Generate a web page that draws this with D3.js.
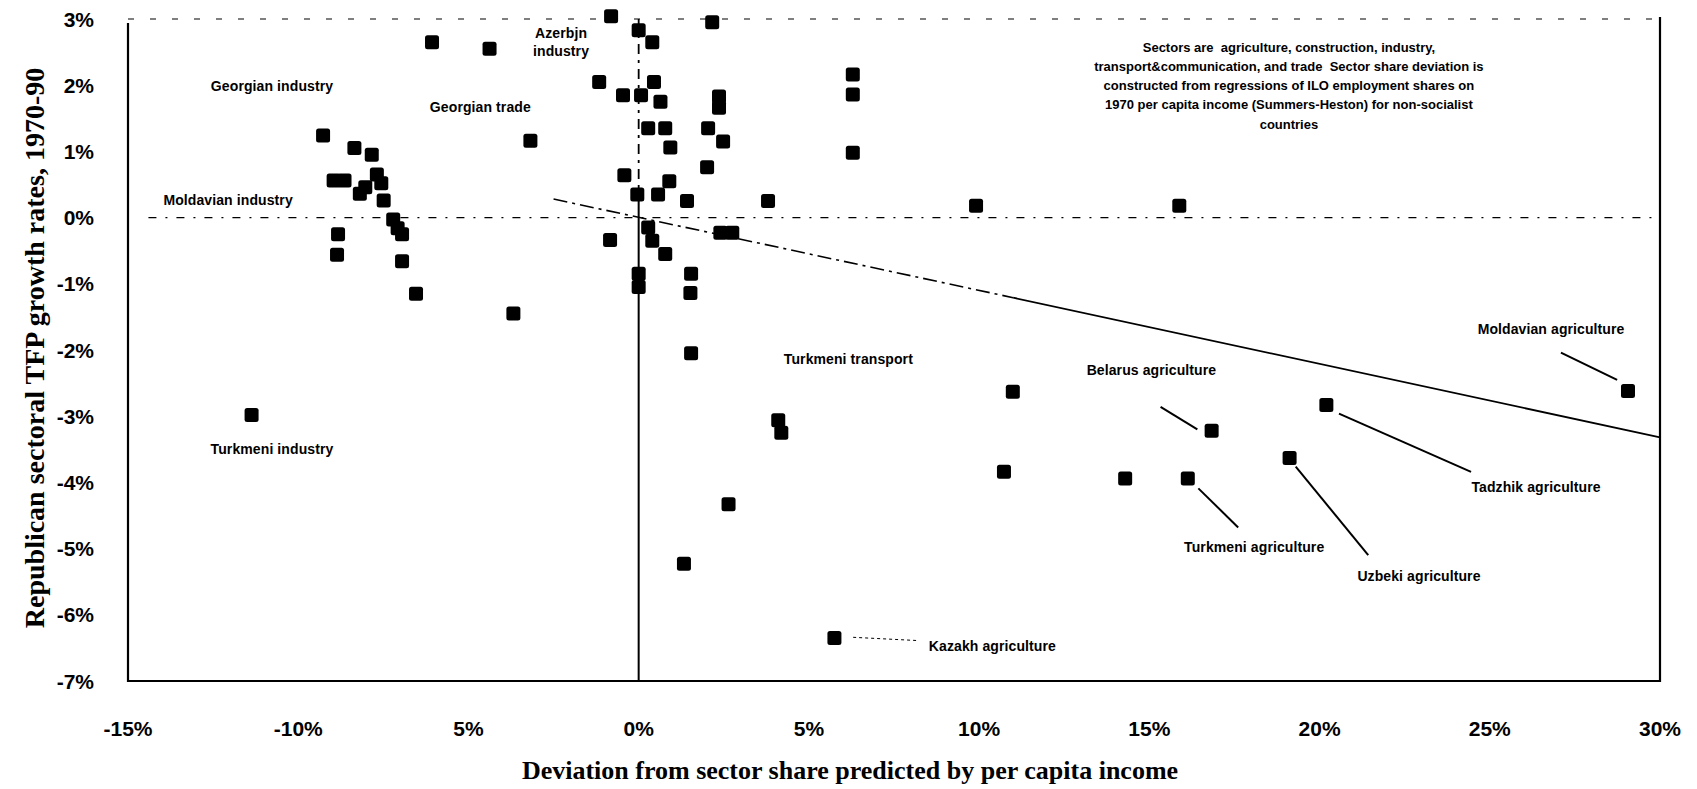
<!DOCTYPE html>
<html>
<head>
<meta charset="utf-8">
<script src="https://cdn.jsdelivr.net/npm/d3@7"></script>
<style>
  body { margin: 0; background: #fff; }
  svg text { font-family: "Liberation Sans", Arial, sans-serif; font-weight: 700; fill: #000; }
  svg text.serif { font-family: "Liberation Serif", "Times New Roman", serif; }
</style>
</head>
<body>
<svg id="chart" width="1697" height="789"></svg>
<script>
// sector share deviation (%), TFP growth (%) for each republic/sector
const sectorX = [
  -6.07, -4.38, -9.27, -8.35, -7.84, -8.96, -8.64, -7.69, -7.56, -8.03, -8.19, -7.49,
  -7.21, -7.08, -6.95, -8.83, -8.86, -6.95, -6.54, -3.68, -3.18, -11.37,
  -0.81, 0.0, 0.4, 2.16, -1.16, 0.45, -0.46, 0.07, 0.64, 2.36, 2.36, 0.28, 0.78, 2.04,
  2.48, 0.93, 2.01, -0.42, 0.9, -0.04, 0.57, 1.42, 3.8, 0.28, 0.4, 0.78, -0.84, 2.4,
  2.75, 0.0, 0.0, 1.54, 1.52, 1.54, 4.1, 4.19, 2.64, 1.33, 5.75,
  6.29, 6.29, 6.29, 9.91, 15.88, 10.99, 10.73, 14.29, 16.13, 16.83, 19.12, 20.2, 29.06
];
const sectorY = [
  2.65, 2.55, 1.24, 1.05, 0.95, 0.56, 0.56, 0.65, 0.52, 0.46, 0.36, 0.26,
  -0.03, -0.16, -0.25, -0.25, -0.56, -0.66, -1.15, -1.45, 1.16, -2.98,
  3.04, 2.83, 2.65, 2.95, 2.05, 2.05, 1.85, 1.85, 1.75, 1.83, 1.66, 1.35, 1.35, 1.35,
  1.15, 1.06, 0.76, 0.64, 0.55, 0.35, 0.35, 0.25, 0.25, -0.15, -0.35, -0.55, -0.34, -0.23,
  -0.23, -0.85, -1.05, -0.85, -1.14, -2.05, -3.06, -3.25, -4.33, -5.23, -6.35,
  2.16, 1.86, 0.98, 0.18, 0.18, -2.63, -3.84, -3.94, -3.94, -3.22, -3.63, -2.83, -2.62
];

const xTickValues = [-15, -10, -5, 0, 5, 10, 15, 20, 25, 30];
const xTickLabels = ["-15%", "-10%", "5%", "0%", "5%", "10%", "15%", "20%", "25%", "30%"];
const yTickValues = [3, 2, 1, 0, -1, -2, -3, -4, -5, -6, -7];
const yTickLabels = ["3%", "2%", "1%", "0%", "-1%", "-2%", "-3%", "-4%", "-5%", "-6%", "-7%"];

// annotation labels (centre, in data units)
const labelNames = ["Georgian industry", "Georgian trade", "Azerbjn", "industry", "Moldavian industry",
  "Turkmeni industry", "Turkmeni transport", "Belarus agriculture", "Moldavian agriculture",
  "Tadzhik agriculture", "Turkmeni agriculture", "Uzbeki agriculture", "Kazakh agriculture"];
const labelX = [-10.77, -4.65, -2.28, -2.28, -12.06, -10.77, 6.16, 15.06, 26.8, 26.36, 18.08, 22.92, 10.39];
const labelY = [1.99, 1.67, 2.79, 2.52, 0.27, -3.5, -2.14, -2.3, -1.68, -4.07, -4.97, -5.41, -6.47];

// leader lines from label to point: x1, y1, x2, y2
const leaderLines = [
  [27.09, -2.04, 28.74, -2.45],
  [20.57, -2.96, 24.45, -3.84],
  [19.3, -3.76, 21.43, -5.1],
  [16.44, -4.09, 17.61, -4.68],
  [15.33, -2.86, 16.41, -3.2],
  [6.3, -6.34, 8.23, -6.39]
];

// fitted line
const trendX = [-2.5, 11, 30];
const trendY = [0.28, -1.21, -3.32];

const noteLines = [
  "Sectors are  agriculture, construction, industry,",
  "transport&communication, and trade  Sector share deviation is",
  "constructed from regressions of ILO employment shares on",
  "1970 per capita income (Summers-Heston) for non-socialist",
  "countries"
];

class tfpScatter {
  constructor() {
    this.svg = d3.select("#chart");
    this.x = d3.scaleLinear().domain([-15, 30]).range([128, 1660]);
    this.y = d3.scaleLinear().domain([-7, 3]).range([681, 19]);
    this.draw();
  }

  draw() {
    const x = this.x, y = this.y, svg = this.svg;

//
//    frame and reference lines
//
    const frame = svg.append("g");
    frame.append("line")
      .attr("x1", x(-15)).attr("x2", x(30)).attr("y1", y(3)).attr("y2", y(3))
      .attr("stroke", "#000").attr("stroke-width", 1.2)
      .attr("stroke-dasharray", "6,16");
    frame.append("path")
      .attr("d", `M${x(-15)},${y(3) + 4}V${y(-7)}H${x(30)}V${y(3) - 2}`)
      .attr("fill", "none").attr("stroke", "#000").attr("stroke-width", 2.2);

    // zero lines
    frame.append("line")
      .attr("x1", x(-14.4)).attr("x2", x(30)).attr("y1", y(0)).attr("y2", y(0))
      .attr("stroke", "#000").attr("stroke-width", 1.1)
      .attr("stroke-dasharray", "8,9,2,9");
    frame.append("line")
      .attr("x1", x(0)).attr("x2", x(0)).attr("y1", y(3)).attr("y2", y(0.3))
      .attr("stroke", "#000").attr("stroke-width", 1.8)
      .attr("stroke-dasharray", "10,6,3,6");
    frame.append("line")
      .attr("x1", x(0)).attr("x2", x(0)).attr("y1", y(0.3)).attr("y2", y(-7))
      .attr("stroke", "#000").attr("stroke-width", 2);

    // trend line: dash-dot then solid
    const trend = d3.line().x(d => x(d[0])).y(d => y(d[1]));
    const trendPts = trendX.map((v, i) => [v, trendY[i]]);
    svg.append("path")
      .attr("d", trend(trendPts.slice(0, 2)))
      .attr("fill", "none").attr("stroke", "#000").attr("stroke-width", 1.6)
      .attr("stroke-dasharray", "14,5,3,5");
    svg.append("path")
      .attr("d", trend(trendPts.slice(1)))
      .attr("fill", "none").attr("stroke", "#000").attr("stroke-width", 1.8);

//
//    tick labels
//
    svg.append("g").selectAll("text")
      .data(yTickValues)
      .enter()
      .append("text")
      .attr("x", 94)
      .attr("y", d => y(d))
      .attr("dy", "0.36em")
      .attr("text-anchor", "end")
      .style("font-size", "21px")
      .text((d, i) => yTickLabels[i]);

    svg.append("g").selectAll("text")
      .data(xTickValues)
      .enter()
      .append("text")
      .attr("x", d => x(d))
      .attr("y", 728)
      .attr("dy", "0.36em")
      .attr("text-anchor", "middle")
      .style("font-size", "21px")
      .text((d, i) => xTickLabels[i]);

    // axis titles
    svg.append("text")
      .attr("class", "serif")
      .attr("transform", "translate(34,348) rotate(-90)")
      .attr("text-anchor", "middle")
      .attr("dy", "0.35em")
      .style("font-size", "28px")
      .text("Republican sectoral TFP growth rates, 1970-90");
    svg.append("text")
      .attr("class", "serif")
      .attr("x", 850).attr("y", 770)
      .attr("text-anchor", "middle")
      .attr("dy", "0.35em")
      .style("font-size", "26px")
      .text("Deviation from sector share predicted by per capita income");

//
//    leader lines, points, labels
//
    svg.append("g").selectAll("line")
      .data(leaderLines)
      .enter()
      .append("line")
      .attr("x1", d => x(d[0])).attr("y1", d => y(d[1]))
      .attr("x2", d => x(d[2])).attr("y2", d => y(d[3]))
      .attr("stroke", "#000")
      .attr("stroke-width", (d, i) => i == 5 ? 1 : 2)
      .attr("stroke-dasharray", (d, i) => i == 5 ? "3,3" : null);

    const sq = 14;
    svg.append("g").selectAll("rect")
      .data(sectorX)
      .enter()
      .append("rect")
      .attr("x", d => x(d) - sq / 2)
      .attr("y", (d, i) => y(sectorY[i]) - sq / 2)
      .attr("width", sq).attr("height", sq)
      .attr("rx", 2.5)
      .attr("fill", "#000");

    svg.append("g").selectAll("text")
      .data(labelNames)
      .enter()
      .append("text")
      .attr("x", (d, i) => x(labelX[i]))
      .attr("y", (d, i) => y(labelY[i]))
      .attr("dy", "0.35em")
      .attr("text-anchor", "middle")
      .style("font-size", "14px")
      .style("letter-spacing", "0.1px")
      .text(d => d);

    // explanatory note
    svg.append("g").selectAll("text")
      .data(noteLines)
      .enter()
      .append("text")
      .attr("x", x(19.1))
      .attr("y", (d, i) => 47 + i * 19.3)
      .attr("dy", "0.35em")
      .attr("text-anchor", "middle")
      .style("font-size", "13px")
      .style("white-space", "pre")
      .text(d => d);
  }
}

new tfpScatter();
</script>
</body>
</html>
